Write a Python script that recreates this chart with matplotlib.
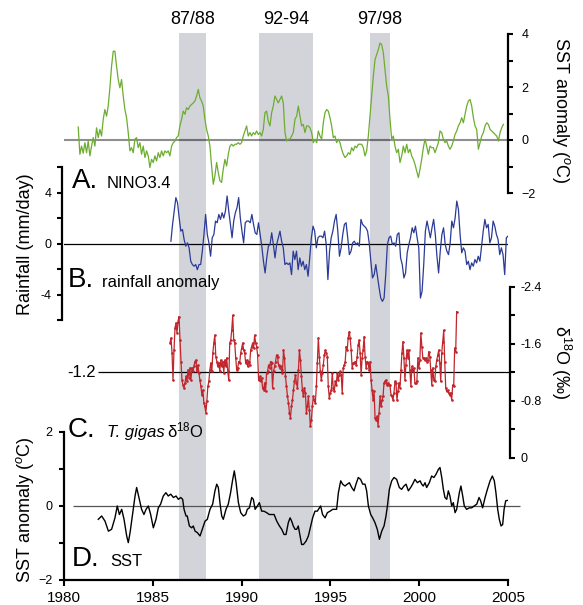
import numpy as np
import matplotlib
matplotlib.use('Agg')
import matplotlib.pyplot as plt
from matplotlib.ticker import MultipleLocator

plt.rcParams['font.family'] = ['Liberation Sans', 'DejaVu Sans']
plt.rcParams['mathtext.fontset'] = 'custom'
plt.rcParams['mathtext.rm'] = 'Liberation Sans'
plt.rcParams['mathtext.it'] = 'Liberation Sans:italic'

# ENSO event windows
events = ['87/88', '92-94', '97/98']
event_start = [1986.5, 1991.0, 1997.25]
event_end = [1988.0, 1994.0, 1998.35]

# A. NINO3.4 SST anomaly (deg C), roughly monthly
nino_first, nino_last = 1980.8, 2004.74
nino34 = [0.49, -0.54, -0.23, -0.5, -0.1, -0.48, -0.04, -0.6, -0.23, 0.09, -0.23, 0.46, 0.09, 0.4, 0.15, 0.78,
          1.15, 0.9, 1.28, 1.97, 2.78, 3.35, 3.35, 2.78, 2.28, 1.97, 2.28, 1.66, 1.15, 0.84, 0.28, -0.41,
          -0.29, -0.48, 0.03, 0.09, -0.29, -0.1, -0.54, -0.23, -0.66, -0.41, -0.6, -1.04, -0.73, -0.85, -0.6, -0.79,
          -0.48, -0.66, -0.41, -0.6, -0.41, -0.48, -0.41, -0.6, -0.23, -0.1, -0.04, 0.09, 0.15, 0.53, 0.78, 1.09,
          0.97, 1.22, 1.15, 1.28, 1.34, 1.4, 1.47, 1.66, 1.91, 1.59, 1.47, 1.28, 0.78, 0.4, 0.15, -0.23,
          -0.98, -1.67, -1.35, -0.85, -1.23, -1.54, -1.6, -1.1, -0.73, -0.98, -0.54, -0.23, -0.16, -0.23, -0.16, -0.16,
          -0.1, -0.16, -0.1, 0.15, 0.34, 0.53, 0.15, 0.28, 0.15, 0.28, 0.21, 0.34, 0.21, 0.28, 0.15, 0.4,
          1.03, 1.09, 0.71, 0.53, 1.03, 1.28, 1.66, 1.53, 1.4, 1.53, 1.66, 1.4, 0.28, -0.04, 0.03, 0.03,
          0.15, 0.28, 0.78, 0.9, 1.28, 0.9, 0.53, 0.59, 0.28, 0.53, 0.53, 0.46, 0.28, -0.1, 0.03, -0.1,
          0.34, 0.15, 0.03, 0.65, 1.03, 1.15, 1.09, 0.84, 0.53, 0.09, 0.15, -0.1, 0.03, -0.1, -0.35, -0.54,
          -0.66, -0.6, -0.48, -0.54, -0.29, -0.41, -0.23, -0.29, -0.16, -0.16, -0.16, -0.29, -0.6, -0.41, 0.15, 0.9,
          1.66, 2.41, 3.03, 3.22, 3.41, 3.66, 3.6, 3.29, 2.66, 2.03, 1.66, 0.78, 0.03, 0.15, -0.23, -0.48,
          -0.35, -0.85, -0.6, -0.23, -0.48, -0.16, -0.48, -0.35, -0.6, -0.73, -0.92, -1.17, -1.42, -1.1, -0.73, -0.29,
          0.03, -0.23, -0.54, -0.23, -0.29, -0.29, -0.48, -0.29, -0.1, 0.34, 0.28, 0.03, -0.1, -0.04, -0.23, -0.35,
          -0.23, -0.04, 0.21, 0.34, 0.53, 0.65, 0.84, 0.65, 0.97, 1.28, 1.47, 1.53, 1.28, 0.84, 0.53, 0.4,
          -0.35, -0.1, 0.15, 0.28, 0.53, 0.65, 0.59, 0.4, 0.34, 0.28, 0.21, 0.15, -0.04, 0.28, 0.46, 0.59]

# B. rainfall anomaly (mm/day)
rain_first, rain_last = 1986.02, 2005.0
rain = [0.18, 1.5, 2.55, 3.6, 3.2, 2.0, 0.97, 1.1, 0.31, -0.21, 0.05, -0.34, -1.39, -1.65, -1.78, -1.65,
        -2.05, -1.65, -1.65, -0.6, 0.71, 2.28, 0.71, 0.05, -1.0, 0.45, 0.71, 1.76, 1.63, 2.28, 1.89, 2.41,
        2.0, 2.55, 3.73, 2.55, 1.5, 0.45, 1.76, 2.41, 2.81, 3.6, 2.0, 0.97, 0.05, 1.63, 1.76, 1.76,
        1.63, 2.28, 1.5, 0.84, 0.71, 1.63, 0.71, -0.21, -1.39, -2.31, -1.13, -0.21, -0.08, 0.84, -0.08, -1.13,
        -0.08, 0.45, 0.97, 0.18, -0.34, -1.65, -1.52, -1.65, -1.52, -2.44, -0.6, -1.26, -0.6, -2.05, -1.13, -1.78,
        -1.39, -2.05, -1.65, -2.57, -1.13, 0.45, 1.36, 0.97, -0.34, 0.45, 0.58, 0.58, 0.45, 0.97, -0.08, -2.83,
        -0.6, 0.45, 0.97, 1.76, 2.28, 0.97, -1.0, -0.34, 0.71, 1.5, 1.63, 0.45, -0.87, -0.6, 0.05, 0.18,
        -0.08, 0.05, -0.21, 1.89, 1.5, 1.36, 1.23, 0.97, 0.05, -1.39, -2.7, -2.44, -1.65, -2.57, -3.49, -4.28,
        -4.54, -4.28, -2.44, -0.08, 0.45, 0.58, -0.08, 0.05, -0.21, 0.71, 0.84, -1.13, -1.65, -2.7, -2.31, -0.73,
        -0.08, 0.45, 1.23, 0.84, 1.36, 0.45, -0.34, -4.28, -3.75, -1.65, 0.97, 1.76, 1.1, 0.45, 1.23, 1.89,
        0.71, -1.0, -2.31, -0.6, 0.71, 1.23, -0.08, -0.6, -0.87, 0.05, 1.76, 1.23, 2.0, 3.33, 2.68, 0.71,
        -0.73, -0.34, -0.6, -1.65, -1.39, -2.05, -1.52, -1.78, -1.26, -1.52, -1.0, -1.39, -0.21, 0.97, 1.89, 1.23,
        1.5, 0.05, 0.45, 1.76, 1.36, 0.71, 0.31, -0.87, -0.34, -0.87, -2.44, 0.45, 0.58]

# C. T. gigas d18O (per mil)
d18o_first, d18o_last = 1985.97, 2002.11
d18o = [-1.61, -1.68, -1.47, -1.09, -1.51, -1.82, -1.89, -1.75, -1.91, -1.98, -1.65, -1.35, -1.09, -1.02, -0.98, -1.05,
        -1.14, -1.07, -1.23, -1.12, -1.26, -1.09, -1.26, -1.21, -1.28, -1.35, -1.37, -1.21, -1.30, -1.19, -1.09, -1.0,
        -0.88, -0.95, -0.77, -0.72, -0.63, -0.79, -1.0, -1.07, -1.23, -1.33, -1.21, -1.47, -1.61, -1.72, -1.42, -1.35,
        -1.28, -1.33, -1.21, -1.37, -1.28, -1.35, -1.19, -1.37, -1.28, -1.40, -1.21, -1.09, -1.61, -1.65, -1.79, -2.0,
        -1.65, -1.61, -1.40, -1.23, -1.26, -1.35, -1.33, -1.47, -1.54, -1.61, -1.51, -1.47, -1.33, -1.37, -1.28, -1.35,
        -1.30, -1.51, -1.56, -1.61, -1.54, -1.72, -1.61, -1.56, -1.44, -1.09, -1.14, -1.07, -1.12, -0.98, -0.95, -1.05,
        -0.93, -1.19, -1.21, -1.30, -1.26, -1.35, -1.33, -0.98, -1.21, -1.28, -1.35, -1.44, -1.42, -1.30, -1.26, -1.28,
        -1.23, -1.19, -1.51, -1.40, -1.14, -1.0, -0.86, -0.77, -0.63, -0.56, -0.72, -0.81, -0.95, -1.07, -1.16, -1.05,
        -0.98, -1.23, -1.51, -1.37, -1.14, -0.95, -0.86, -0.98, -0.91, -0.63, -0.72, -0.86, -0.67, -0.44, -0.53, -0.72,
        -0.86, -0.81, -0.77, -1.0, -1.33, -1.68, -1.42, -1.21, -1.09, -1.19, -1.30, -1.44, -1.51, -1.47, -1.42,
        -1.0, -0.84, -0.91, -0.95, -1.19, -0.98, -0.93, -1.07, -1.02, -1.19, -1.09, -1.16, -1.21, -1.16, -0.91, -1.26,
        -1.30, -1.35, -1.56, -1.51, -1.68, -1.77, -1.68, -1.51, -1.26, -1.33, -1.33, -1.35, -1.30, -1.42, -1.58, -1.65,
        -1.47, -1.16, -1.40, -1.51, -1.70, -1.42, -1.26, -1.35, -1.33, -1.23, -1.35, -1.09, -0.95, -0.81, -0.93, -0.56,
        -0.53, -0.58, -0.45, -0.63, -0.86, -0.72, -0.81, -0.86, -1.05, -1.07, -1.09, -1.02, -1.05, -1.02, -1.02, -0.88,
        -0.86, -0.81, -0.91, -1.07, -1.05, -0.81, -0.93, -1.05, -0.98, -1.23, -1.47, -1.63, -1.40, -1.09, -1.30, -1.51,
        -1.40, -1.51, -1.23, -1.0, -1.28, -1.21, -1.26, -1.05, -1.05, -1.07, -1.40, -1.26, -1.37, -1.75, -1.56, -1.40,
        -1.40, -1.37, -1.40, -1.35, -1.37, -1.49, -1.42, -1.23, -1.02, -1.26, -1.09, -1.07, -1.28, -1.37, -1.44, -1.51,
        -1.33, -1.07, -1.47, -1.63, -1.79, -1.35, -0.98, -0.93, -0.95, -0.91, -0.88, -0.91, -0.81, -1.02, -1.0, -1.54,
        -1.49, -2.05]

# D. local SST anomaly (deg C)
sst_years = [1981.93, 1982.12, 1982.31, 1982.50, 1982.68, 1982.87, 1983.00, 1983.12, 1983.25, 1983.38, 1983.53,
             1983.62, 1983.72, 1983.87, 1984.00, 1984.09, 1984.24, 1984.37, 1984.50, 1984.62, 1984.75, 1984.88,
             1985.03, 1985.18, 1985.31, 1985.44, 1985.59, 1985.74, 1985.87, 1986.01, 1986.16, 1986.31, 1986.44,
             1986.57, 1986.68, 1986.76, 1986.87, 1986.94, 1987.06, 1987.19, 1987.28, 1987.38, 1987.51, 1987.66,
             1987.75, 1987.85, 1987.94, 1988.07, 1988.22, 1988.37, 1988.50, 1988.60, 1988.69, 1988.78, 1988.88,
             1988.97, 1989.12, 1989.25, 1989.38, 1989.50, 1989.59, 1989.69, 1989.82, 1989.95, 1990.10, 1990.23,
             1990.32, 1990.44, 1990.57, 1990.66, 1990.76, 1990.89, 1991.00, 1991.13, 1991.26, 1991.41, 1991.56,
             1991.69, 1991.83, 1991.98, 1992.13, 1992.26, 1992.39, 1992.50, 1992.63, 1992.73, 1992.82, 1992.91,
             1993.01, 1993.10, 1993.19, 1993.29, 1993.38, 1993.48, 1993.63, 1993.76, 1993.89, 1994.00, 1994.13,
             1994.26, 1994.38, 1994.45, 1994.56, 1994.70, 1994.83, 1994.98, 1995.13, 1995.26, 1995.35, 1995.45,
             1995.58, 1995.69, 1995.82, 1995.95, 1996.07, 1996.20, 1996.33, 1996.44, 1996.57, 1996.70, 1996.82,
             1996.95, 1997.04, 1997.14, 1997.27, 1997.38, 1997.51, 1997.64, 1997.76, 1997.89, 1998.02, 1998.13,
             1998.21, 1998.32, 1998.45, 1998.58, 1998.73, 1998.88, 1999.01, 1999.14, 1999.26, 1999.39, 1999.52,
             1999.63, 1999.76, 1999.90, 2000.05, 2000.14, 2000.23, 2000.33, 2000.42, 2000.57, 2000.70, 2000.83,
             2000.95, 2001.08, 2001.17, 2001.27, 2001.36, 2001.45, 2001.55, 2001.64, 2001.73, 2001.83, 2001.92,
             2002.02, 2002.11, 2002.26, 2002.35, 2002.45, 2002.54, 2002.67, 2002.82, 2002.95, 2003.09, 2003.24,
             2003.37, 2003.46, 2003.57, 2003.71, 2003.84, 2003.99, 2004.12, 2004.23, 2004.32, 2004.42, 2004.51,
             2004.61, 2004.70, 2004.78, 2004.87, 2004.96]
sst = [-0.36, -0.27, -0.41, -0.68, -0.63, -0.32, 0.0, -0.23, -0.09, -0.36, -0.81,
       -0.99, -0.72, -0.18, 0.27, 0.5, 0.18, -0.09, -0.23, -0.09, 0.0, -0.23,
       -0.59, -0.36, -0.05, 0.05, 0.27, 0.36, 0.27, 0.32, 0.23, 0.27, 0.18,
       0.23, 0.18, -0.09, -0.27, -0.27, -0.54, -0.59, -0.54, -0.68, -0.72, -0.81,
       -0.68, -0.54, -0.41, -0.36, -0.09, 0.05, 0.41, 0.59, 0.5, 0.09, -0.27,
       -0.36, -0.09, 0.05, 0.36, 0.72, 0.95, 0.63, 0.09, -0.18, -0.27, -0.23,
       -0.09, -0.05, 0.23, 0.18, -0.09, 0.0, 0.09, -0.14, -0.14, -0.18, -0.23,
       -0.23, -0.23, -0.41, -0.54, -0.63, -0.77, -0.77, -0.45, -0.32, -0.41, -0.54,
       -0.63, -0.63, -0.54, -0.81, -1.04, -1.04, -0.95, -0.81, -0.54, -0.32, -0.14,
       -0.14, -0.05, 0.0, -0.23, -0.32, -0.18, -0.14, -0.09, -0.09, -0.09, 0.36,
       0.68, 0.59, 0.54, 0.59, 0.63, 0.5, 0.41, 0.59, 0.77, 0.72, 0.59,
       0.59, 0.41, 0.0, -0.23, -0.32, -0.45, -0.63, -0.9, -0.68, -0.54, -0.27,
       0.0, 0.45, 0.68, 0.77, 0.72, 0.5, 0.45, 0.54, 0.59, 0.41, 0.5,
       0.59, 0.72, 0.63, 0.68, 0.59, 0.54, 0.63, 0.5, 0.63, 0.81, 0.77,
       0.86, 0.99, 1.04, 0.77, 0.45, 0.23, 0.18, 0.41, 0.27, 0.0, 0.09,
       -0.18, -0.09, 0.36, 0.54, 0.27, 0.0, -0.09, -0.05, -0.05, 0.0, 0.05,
       0.23, 0.14, -0.05, 0.23, 0.45, 0.68, 0.81, 0.68, 0.36, -0.09, -0.36,
       -0.54, -0.5, -0.09, 0.14, 0.15]

W, H = 583, 605
fig = plt.figure(figsize=(W / 100, H / 100), dpi=100)


def rect(top, bottom):
    return [64 / W, 1 - bottom / H, 444 / W, (bottom - top) / H]


def style(ax, side, ticksize=9, pad=4):
    for s in ['top', 'bottom', 'left', 'right']:
        ax.spines[s].set_visible(s == side)
    ax.spines[side].set_linewidth(1.6)
    ax.set_xlim(1980, 2005)
    ax.set_xticks([])
    if side == 'right':
        ax.yaxis.tick_right()
    ax.tick_params(axis='y', which='both', direction='out', length=3.5, width=1.5,
                   labelsize=ticksize, pad=pad)


# shading for the ENSO events behind every panel
bg = fig.add_axes(rect(33, 580))
bg.set_xlim(1980, 2005)
bg.axis('off')
for name, s, e in zip(events, event_start, event_end):
    bg.axvspan(s, e, color='#d3d4da', lw=0)
    bg.text((s + e) / 2, 1.025, name, transform=bg.get_xaxis_transform(),
            ha='center', va='center', fontsize=13)

# A. NINO3.4
axA = fig.add_axes(rect(34, 193), facecolor='none')
style(axA, 'right', pad=6)
axA.set_ylim(-2, 4)
axA.set_yticks([-2, 0, 2, 4])
axA.yaxis.set_minor_locator(MultipleLocator(1))
axA.axhline(0, color='#8f8f8f', lw=1.5, zorder=1)
for s, e in zip(event_start, event_end):
    axA.hlines(0, s, e, color='#6f7075', lw=1.5, zorder=1.5)
axA.plot(np.linspace(nino_first, nino_last, len(nino34)), nino34, color='#6cad2f', lw=0.9, zorder=3)

# B. rainfall
axB = fig.add_axes(rect(167, 320), facecolor='none')
style(axB, 'left', pad=4)
axB.spines['left'].set_position(('outward', 1.5))
axB.set_ylim(-6, 6)
axB.set_yticks([-6, -4, -2, 0, 2, 4, 6])
axB.set_yticklabels(['', '-4', '', '0', '', '4', ''])
axB.axhline(0, color='black', lw=0.9)
axB.plot(np.linspace(rain_first, rain_last, len(rain)), rain, color='#2a3a96', lw=0.9)

# C. d18O
axC = fig.add_axes(rect(286.7, 457.7), facecolor='none')
style(axC, 'right', pad=4)
axC.spines['right'].set_position(('outward', 1.5))
axC.set_ylim(0, -2.4)
axC.set_yticks([-2.4, -2.0, -1.6, -1.2, -0.8, -0.4, 0])
axC.set_yticklabels(['-2.4', '', '-1.6', '', '-0.8', '', '0'])
axC.hlines(-1.2, 1981.9, 2005.1, color='black', lw=0.9, clip_on=False)
axC.plot(np.linspace(d18o_first, d18o_last, len(d18o)), d18o, color='#c0262c', lw=0.9,
         marker='o', ms=1.9, mew=0)

# D. SST
axD = fig.add_axes(rect(432, 580), facecolor='none')
style(axD, 'left', pad=5)
axD.spines['bottom'].set_visible(True)
axD.spines['bottom'].set_linewidth(1.6)
axD.set_ylim(-2, 2)
axD.set_yticks([-2, 0, 2])
axD.yaxis.set_minor_locator(MultipleLocator(1))
axD.set_xticks(range(1980, 2006, 5))
axD.tick_params(axis='x', direction='out', length=4, width=1.5, labelsize=11, pad=4)
axD.hlines(0, 1980.5, 2005.7, color='#555555', lw=0.9, clip_on=False)
axD.plot(sst_years, sst, color='black', lw=1.0)

# axis titles
fig.text(561 / W, 1 - 110 / H, 'SST anomaly ($^{o}$C)', rotation=-90, ha='center', va='center', fontsize=13)
fig.text(561 / W, 1 - 362 / H, 'δ$^{18}$O (‰)', rotation=-90, ha='center', va='center', fontsize=13)
fig.text(25 / W, 1 - 244 / H, 'Rainfall (mm/day)', rotation=90, ha='center', va='center', fontsize=13)
fig.text(25 / W, 1 - 510 / H, 'SST anomaly ($^{o}$C)', rotation=90, ha='center', va='center', fontsize=13)
fig.text(96 / W, 1 - 372.5 / H, '-1.2', ha='right', va='center', fontsize=12)

# panel letters
fig.text(72 / W, 1 - 188 / H, 'A.', fontsize=20, va='baseline')
fig.text(107 / W, 1 - 188 / H, 'NINO3.4', fontsize=12, va='baseline')
fig.text(68 / W, 1 - 287 / H, 'B.', fontsize=20, va='baseline')
fig.text(102 / W, 1 - 287 / H, 'rainfall anomaly', fontsize=12, va='baseline')
fig.text(68 / W, 1 - 437 / H, 'C.', fontsize=20, va='baseline')
fig.text(107 / W, 1 - 437 / H, 'T. gigas', fontsize=12, style='italic', va='baseline')
fig.text(167 / W, 1 - 437 / H, 'δ$^{18}$O', fontsize=12, va='baseline')
fig.text(72 / W, 1 - 566 / H, 'D.', fontsize=20, va='baseline')
fig.text(110 / W, 1 - 566 / H, 'SST', fontsize=12, va='baseline')

plt.savefig('out.png', dpi=100)
plt.close()
